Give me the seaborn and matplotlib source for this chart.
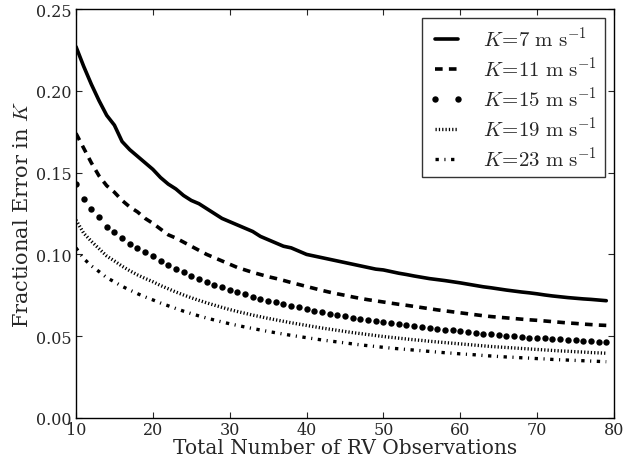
"""Fractional error in K versus number of RV observations, one curve per K."""

import matplotlib
matplotlib.use("Agg")
import matplotlib.pyplot as plt
import pandas as pd
import seaborn as sns

n_obs = list(range(10, 80))
k_values = [7, 11, 15, 19, 23]

err_k7 = [0.227, 0.215, 0.204, 0.194, 0.185, 0.179, 0.169, 0.164, 0.160, 0.156,
          0.152, 0.147, 0.143, 0.140, 0.136, 0.133, 0.131, 0.128, 0.125, 0.122,
          0.120, 0.118, 0.116, 0.114, 0.111, 0.109, 0.107, 0.105, 0.104, 0.102,
          0.100, 0.099, 0.098, 0.097, 0.096, 0.095, 0.094, 0.093, 0.092, 0.091,
          0.0905, 0.0895, 0.0885, 0.0877, 0.0868, 0.0860, 0.0852, 0.0846, 0.0840, 0.0833,
          0.0826, 0.0818, 0.0810, 0.0802, 0.0796, 0.0789, 0.0782, 0.0776, 0.0770, 0.0765,
          0.0759, 0.0752, 0.0746, 0.0741, 0.0736, 0.0732, 0.0728, 0.0725, 0.0721, 0.0717]
err_k11 = [0.174, 0.165, 0.156, 0.148, 0.142, 0.138, 0.133, 0.129, 0.126, 0.122,
           0.119, 0.1155, 0.112, 0.110, 0.1075, 0.105, 0.1025, 0.100, 0.098, 0.096,
           0.094, 0.092, 0.0905, 0.089, 0.0877, 0.0864, 0.0853, 0.0841, 0.0828, 0.0816,
           0.0804, 0.0792, 0.0780, 0.0769, 0.0759, 0.0750, 0.0740, 0.0731, 0.0723, 0.0716,
           0.0709, 0.0702, 0.0695, 0.0689, 0.0682, 0.0675, 0.0668, 0.0661, 0.0655, 0.0649,
           0.0643, 0.0637, 0.0631, 0.0625, 0.0620, 0.0616, 0.0612, 0.0608, 0.0604, 0.0600,
           0.0597, 0.0593, 0.0589, 0.0585, 0.0581, 0.0578, 0.0574, 0.0571, 0.0568, 0.0566]
err_k15 = [0.143, 0.134, 0.128, 0.123, 0.117, 0.114, 0.110, 0.1065, 0.1037, 0.1012,
           0.0988, 0.0960, 0.0935, 0.0912, 0.0890, 0.0868, 0.0850, 0.0832, 0.0815, 0.0798,
           0.0782, 0.0768, 0.0755, 0.0742, 0.0730, 0.0718, 0.0707, 0.0696, 0.0686, 0.0676,
           0.0666, 0.0656, 0.0646, 0.0637, 0.0629, 0.0621, 0.0613, 0.0605, 0.0598, 0.0591,
           0.0584, 0.0578, 0.0572, 0.0566, 0.0561, 0.0556, 0.0550, 0.0545, 0.0540, 0.0535,
           0.0530, 0.0525, 0.0520, 0.0515, 0.0511, 0.0507, 0.0503, 0.0499, 0.0496, 0.0492,
           0.0489, 0.0486, 0.0483, 0.0480, 0.0477, 0.0474, 0.0471, 0.0468, 0.0466, 0.0464]
err_k19 = [0.121, 0.113, 0.108, 0.1035, 0.0990, 0.0960, 0.0928, 0.0900, 0.0875, 0.0853,
           0.0833, 0.0810, 0.0790, 0.0770, 0.0752, 0.0735, 0.0719, 0.0704, 0.0690, 0.0676,
           0.0663, 0.0651, 0.0640, 0.0629, 0.0619, 0.0609, 0.0600, 0.0591, 0.0582, 0.0574,
           0.0566, 0.0558, 0.0550, 0.0543, 0.0536, 0.0529, 0.0522, 0.0516, 0.0510, 0.0504,
           0.0498, 0.0493, 0.0488, 0.0483, 0.0478, 0.0474, 0.0469, 0.0465, 0.0461, 0.0457,
           0.0453, 0.0449, 0.0445, 0.0441, 0.0437, 0.0434, 0.0431, 0.0428, 0.0425, 0.0422,
           0.0419, 0.0416, 0.0413, 0.0410, 0.0408, 0.0405, 0.0403, 0.0400, 0.0398, 0.0396]
err_k23 = [0.104, 0.0975, 0.0930, 0.0895, 0.0858, 0.0832, 0.0805, 0.0782, 0.0760, 0.0740,
           0.0722, 0.0703, 0.0686, 0.0669, 0.0653, 0.0638, 0.0624, 0.0611, 0.0599, 0.0587,
           0.0576, 0.0566, 0.0556, 0.0547, 0.0538, 0.0529, 0.0521, 0.0513, 0.0505, 0.0498,
           0.0491, 0.0484, 0.0477, 0.0471, 0.0465, 0.0459, 0.0453, 0.0447, 0.0442, 0.0437,
           0.0432, 0.0427, 0.0423, 0.0419, 0.0415, 0.0411, 0.0407, 0.0403, 0.0399, 0.0396,
           0.0392, 0.0389, 0.0386, 0.0382, 0.0379, 0.0376, 0.0373, 0.0371, 0.0368, 0.0366,
           0.0363, 0.0361, 0.0358, 0.0356, 0.0354, 0.0352, 0.0350, 0.0348, 0.0346, 0.0344]

errors = [err_k7, err_k11, err_k15, err_k19, err_k23]

sns.set_style("ticks")
plt.rcParams.update({
    "font.family": ["DejaVu Serif"],
    "mathtext.fontset": "cm",
    "lines.scale_dashes": False,
    "xtick.direction": "in",
    "ytick.direction": "in",
    "xtick.top": True,
    "ytick.right": True,
    "xtick.major.size": 4,
    "ytick.major.size": 4,
    "axes.edgecolor": "black",
    "axes.linewidth": 1.0,
})

df = pd.DataFrame({
    "N": n_obs * len(k_values),
    "err": [v for series in errors for v in series],
    "K": [k for k in k_values for _ in n_obs],
})

# per-curve look: (linewidth, dash pattern in points or None, marker)
looks = {
    7: (2.6, None, None),
    11: (2.6, (5.5, 4.5), None),
    15: (0, None, "o"),
    19: (2.4, (0.9, 1.5), None),
    23: (2.4, (2.4, 4.0, 0.8, 4.0), None),
}

fig = plt.figure(figsize=(6.31, 4.64), dpi=100)
ax = fig.add_axes([0.1204, 0.097, 0.8526, 0.8814])

for k in k_values:
    lw, dashes, marker = looks[k]
    sub = df[df["K"] == k]
    label = r"$K\!=\!%d\ \mathrm{m\ s^{-1}}$" % k
    if marker:
        sns.lineplot(data=sub, x="N", y="err", ax=ax, color="black", label=label,
                     linestyle="", marker="o", markersize=4.6, markeredgewidth=0,
                     errorbar=None)
    else:
        sns.lineplot(data=sub, x="N", y="err", ax=ax, color="black", label=label,
                     linewidth=lw, errorbar=None)
        if dashes:
            ax.lines[-1].set_dashes(dashes)
            ax.lines[-1].set_dash_capstyle("butt")

ax.set_xlim(10, 80)
ax.set_ylim(0, 0.25)
ax.set_xticks(range(10, 81, 10))
ax.set_yticks([0.0, 0.05, 0.10, 0.15, 0.20, 0.25])
ax.set_yticklabels(["0.00", "0.05", "0.10", "0.15", "0.20", "0.25"])
ax.tick_params(axis="x", labelsize=11.5, pad=2.5)
ax.tick_params(axis="y", labelsize=11.5, pad=3)
ax.set_xlabel("Total Number of RV Observations", fontsize=14.5, labelpad=0)
ax.set_ylabel(r"Fractional Error in $K$", fontsize=15, labelpad=3)

leg = ax.legend(loc="upper right", numpoints=2, fontsize=15, frameon=True,
                fancybox=False, handlelength=1.7, borderaxespad=0.45,
                labelspacing=0.27, handletextpad=0.9, borderpad=0.35)
leg.get_frame().set_edgecolor("black")
leg.get_frame().set_linewidth(1.0)

fig.savefig("out.png", dpi=100)
